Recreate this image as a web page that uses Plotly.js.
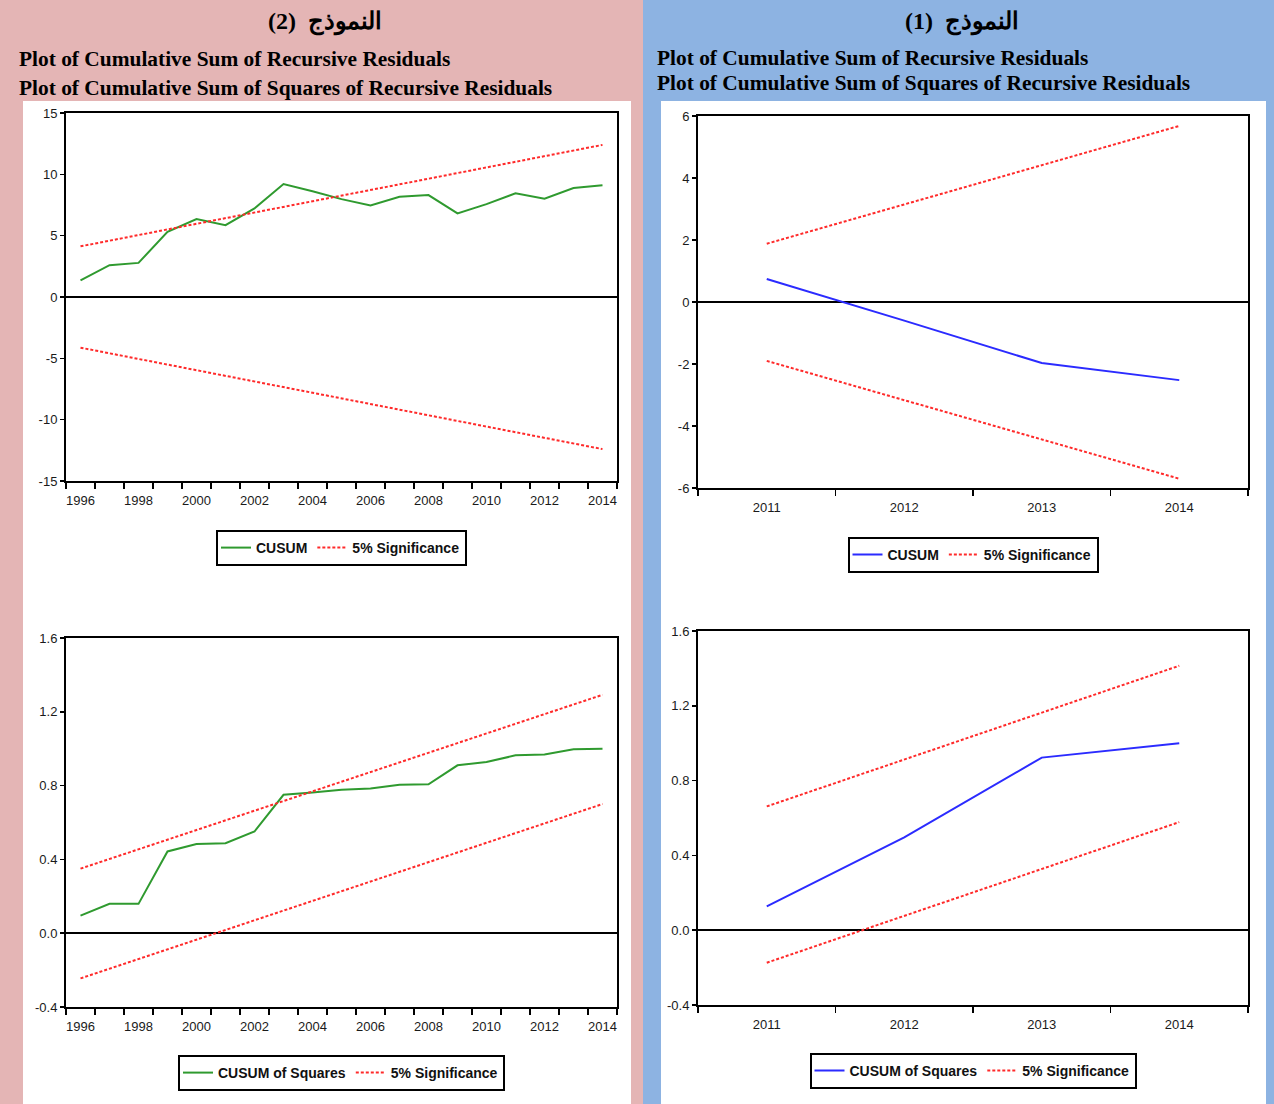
<!DOCTYPE html>
<html>
<head>
<meta charset="utf-8">
<script src="https://cdn.plot.ly/plotly-3.0.1.min.js"></script>
<style>
html,body{margin:0;padding:0;background:#fff;}
#chart{width:1274px;height:1104px;}
</style>
</head>
<body>
<div id="chart"></div>
<script>
// ---------- Data ----------
// Model (2): annual 1996-2014
const years2 = [1996,1997,1998,1999,2000,2001,2002,2003,2004,2005,2006,2007,2008,2009,2010,2011,2012,2013,2014];
const cusum2 = [1.36,2.59,2.78,5.31,6.35,5.86,7.22,9.21,8.62,7.98,7.47,8.17,8.31,6.81,7.57,8.45,8.01,8.88,9.10];
const cusum2BoundYears = [1996, 2014];
const cusum2Upper = [4.13, 12.40];
const cusum2Lower = [-4.13, -12.40];
const cusumsq2 = [0.095,0.159,0.159,0.443,0.483,0.488,0.551,0.750,0.762,0.777,0.784,0.805,0.807,0.910,0.928,0.964,0.968,0.997,1.000];
const cusumsq2Upper = [0.350, 1.292];
const cusumsq2Lower = [-0.245, 0.700];
const xTickLabels2 = ['1996','1998','2000','2002','2004','2006','2008','2010','2012','2014'];

// Model (1): annual 2011-2014
const years1 = [2011,2012,2013,2014];
const cusum1 = [0.74,-0.60,-1.97,-2.52];
const cusum1BoundYears = [2011, 2014];
const cusum1Upper = [1.88, 5.68];
const cusum1Lower = [-1.90, -5.70];
const cusumsq1 = [0.127,0.496,0.923,1.000];
const cusumsq1Upper = [0.662, 1.414];
const cusumsq1Lower = [-0.174, 0.578];
const xTickLabels1 = ['2011','2012','2013','2014'];

// Y tick labels
const yTicksCusum2 = ['-15','-10','-5','0','5','10','15'];
const yTicksCusum1 = ['-6','-4','-2','0','2','4','6'];
const yTicksSq = ['-0.4','0.0','0.4','0.8','1.2','1.6'];

// ---------- Styling ----------
const W = 1274, H = 1104;
const px = v => v / W;
const py = v => 1 - v / H;
const GREEN = '#2f9a2f', BLUE = '#2b2bff', RED = '#ff2a2a';
const tickFont = {family: 'Liberation Sans, Arial, sans-serif', size: 13, color: '#1a1a1a'};
const legFont = {family: 'Liberation Sans, Arial, sans-serif', size: 14, color: '#111', weight: 'bold'};

function xAxis(domain, years, labels, anchor) {
  const first = years[0], last = years[years.length - 1];
  return {
    domain: domain, anchor: anchor, range: [first - 0.5, last + 0.5],
    tickmode: 'array', tickvals: labels.map(Number), ticktext: labels,
    ticks: 'outside', ticklen: 6, tickcolor: 'rgba(0,0,0,0)',
    minor: {tickmode: 'linear', tick0: first - 0.5, dtick: 1, ticks: 'outside', ticklen: 6, tickwidth: 1.5, tickcolor: '#000'},
    showline: true, mirror: true, linecolor: '#000', linewidth: 2,
    showgrid: false, zeroline: false, tickfont: tickFont, fixedrange: true
  };
}
function yAxis(domain, labels, anchor) {
  const vals = labels.map(Number);
  return {
    domain: domain, anchor: anchor, range: [vals[0], vals[vals.length - 1]],
    tickmode: 'array', tickvals: vals, ticktext: labels,
    ticks: 'outside', ticklen: 4, tickwidth: 1.5, tickcolor: '#000',
    showline: true, mirror: true, linecolor: '#000', linewidth: 2,
    showgrid: false, zeroline: true, zerolinecolor: '#000', zerolinewidth: 2,
    tickfont: tickFont, fixedrange: true
  };
}
function lineTrace(x, y, name, color, xa, ya, leg) {
  return {x: x, y: y, name: name, type: 'scatter', mode: 'lines', xaxis: xa, yaxis: ya,
    legend: leg, line: {color: color, width: 2}, hoverinfo: 'skip'};
}
function boundTrace(x, y, show, xa, ya, leg, grp) {
  return {x: x, y: y, name: '5% Significance', type: 'scatter', mode: 'lines', xaxis: xa, yaxis: ya,
    legend: leg, legendgroup: grp, showlegend: show,
    line: {color: RED, width: 2, dash: '3px,2px'}, hoverinfo: 'skip'};
}

const traces = [
  // Top-left: model 2 CUSUM
  lineTrace(years2, cusum2, 'CUSUM', GREEN, 'x', 'y', 'legend'),
  boundTrace(cusum2BoundYears, cusum2Upper, true, 'x', 'y', 'legend', 'g1'),
  boundTrace(cusum2BoundYears, cusum2Lower, false, 'x', 'y', 'legend', 'g1'),
  // Top-right: model 1 CUSUM
  lineTrace(years1, cusum1, 'CUSUM', BLUE, 'x2', 'y2', 'legend2'),
  boundTrace(cusum1BoundYears, cusum1Upper, true, 'x2', 'y2', 'legend2', 'g2'),
  boundTrace(cusum1BoundYears, cusum1Lower, false, 'x2', 'y2', 'legend2', 'g2'),
  // Bottom-left: model 2 CUSUM of squares
  lineTrace(years2, cusumsq2, 'CUSUM of Squares', GREEN, 'x3', 'y3', 'legend3'),
  boundTrace(cusum2BoundYears, cusumsq2Upper, true, 'x3', 'y3', 'legend3', 'g3'),
  boundTrace(cusum2BoundYears, cusumsq2Lower, false, 'x3', 'y3', 'legend3', 'g3'),
  // Bottom-right: model 1 CUSUM of squares
  lineTrace(years1, cusumsq1, 'CUSUM of Squares', BLUE, 'x4', 'y4', 'legend4'),
  boundTrace(cusum1BoundYears, cusumsq1Upper, true, 'x4', 'y4', 'legend4', 'g4'),
  boundTrace(cusum1BoundYears, cusumsq1Lower, false, 'x4', 'y4', 'legend4', 'g4')
];

function legendAt(cx, top) {
  return {orientation: 'h', x: px(cx), xanchor: 'center', y: py(top), yanchor: 'top',
    bgcolor: '#fff', bordercolor: '#000', borderwidth: 2, font: legFont,
    itemwidth: 30, tracegroupgap: 0, itemclick: false, itemdoubleclick: false};
}

const titleFont = {family: 'Liberation Serif, Times New Roman, serif', size: 21.4, color: '#000', weight: 'bold'};
const arFont = {family: 'Liberation Serif, DejaVu Serif, serif', size: 24, color: '#000', weight: 'bold'};
function textAt(x, y, text, font, anchor) {
  return {xref: 'paper', yref: 'paper', x: px(x), y: py(y), xanchor: anchor, yanchor: 'middle',
    text: text, showarrow: false, font: font};
}

const layout = {
  width: W, height: H,
  margin: {l: 0, r: 0, t: 0, b: 0},
  paper_bgcolor: '#fff', plot_bgcolor: '#fff',
  showlegend: true,
  xaxis: xAxis([px(66), px(617)], years2, xTickLabels2, 'y'),
  yaxis: yAxis([py(481), py(113)], yTicksCusum2, 'x'),
  xaxis2: xAxis([px(698), px(1248)], years1, xTickLabels1, 'y2'),
  yaxis2: yAxis([py(488), py(116)], yTicksCusum1, 'x2'),
  xaxis3: xAxis([px(66), px(617)], years2, xTickLabels2, 'y3'),
  yaxis3: yAxis([py(1007), py(638)], yTicksSq, 'x3'),
  xaxis4: xAxis([px(698), px(1248)], years1, xTickLabels1, 'y4'),
  yaxis4: yAxis([py(1005), py(631)], yTicksSq, 'x4'),
  legend: legendAt(341.5, 530),
  legend2: legendAt(973, 537),
  legend3: legendAt(341.5, 1055),
  legend4: legendAt(973, 1053),
  shapes: [
    {type: 'rect', xref: 'paper', yref: 'paper', x0: 0, x1: px(643), y0: 0, y1: 1, fillcolor: '#e4b5b5', line: {width: 0}, layer: 'below'},
    {type: 'rect', xref: 'paper', yref: 'paper', x0: px(643), x1: 1, y0: 0, y1: 1, fillcolor: '#8db3e2', line: {width: 0}, layer: 'below'},
    {type: 'rect', xref: 'paper', yref: 'paper', x0: px(23), x1: px(631), y0: 0, y1: py(101), fillcolor: '#fff', line: {width: 0}, layer: 'below'},
    {type: 'rect', xref: 'paper', yref: 'paper', x0: px(661), x1: px(1266), y0: 0, y1: py(101), fillcolor: '#fff', line: {width: 0}, layer: 'below'}
  ],
  annotations: [
    textAt(325, 22, 'النموذج  (2)', arFont, 'center'),
    textAt(962, 22, 'النموذج  (1)', arFont, 'center'),
    textAt(17, 59, 'Plot of Cumulative Sum of Recursive Residuals', titleFont, 'left'),
    textAt(17, 88, 'Plot of Cumulative Sum of Squares of Recursive Residuals', titleFont, 'left'),
    textAt(655, 58, 'Plot of Cumulative Sum of Recursive Residuals', titleFont, 'left'),
    textAt(655, 83, 'Plot of Cumulative Sum of Squares of Recursive Residuals', titleFont, 'left')
  ]
};

Plotly.newPlot('chart', traces, layout, {displayModeBar: false, staticPlot: true});
</script>
</body>
</html>
